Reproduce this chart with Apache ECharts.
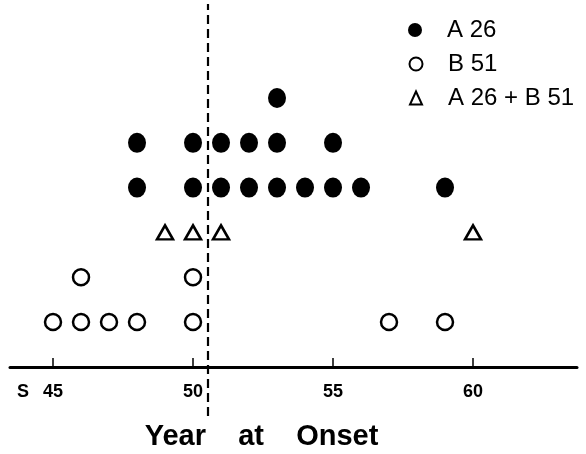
<!DOCTYPE html>
<html>
<head>
<meta charset="utf-8">
<script src="https://cdn.jsdelivr.net/npm/echarts@6/dist/echarts.min.js"></script>
<style>
  html, body { margin: 0; padding: 0; background: #fff; }
  #chart { width: 586px; height: 454px; }
</style>
</head>
<body>
<div id="chart"></div>
<script>
// year at onset for each patient, one entry per mark
const a26Years = [48, 48, 50, 50, 51, 51, 52, 52, 53, 53, 53, 54, 55, 55, 56, 59];
const b51Years = [45, 46, 46, 47, 48, 50, 50, 57, 59];
const bothYears = [49, 50, 51, 60];
// row where each group starts stacking
const a26Base = 4;
const b51Base = 1;
const bothBase = 3;
const xTicks = [45, 50, 55, 60];
// dashed cut line
const cutYear = 50.53;
const seriesNames = ["A 26", "B 51", "A 26 + B 51"];

// stack repeated years upward like a dot plot
function stackDots(years, base) {
	const seen = {};
	return years.map(function (y) {
		const k = seen[y] || 0;
		seen[y] = k + 1;
		return [y, base + k];
	});
}

const font = "Liberation Sans";
let chart = echarts.init(document.getElementById("chart"));

const legendBase = {
	orient: "vertical",
	padding: 0,
	selectedMode: false,
	textStyle: { fontFamily: font, fontSize: 24, color: "#000" },
};

const option = {
	animation: false,
	textStyle: { fontFamily: font },
	// grid runs below the axis so the dashed line can cross it
	grid: { left: 10, right: 9, top: 4, bottom: 38, outerBoundsMode: "none" },
	legend: [
		Object.assign({}, legendBase, {
			data: [{ name: seriesNames[0], icon: "circle" }],
			left: 408, top: 18, itemWidth: 14, itemHeight: 14,
			itemStyle: { color: "#000", opacity: 1 },
			textStyle: Object.assign({}, legendBase.textStyle, { padding: [4, 0, 0, 20] }),
		}),
		Object.assign({}, legendBase, {
			data: [{ name: seriesNames[1], icon: "circle" }],
			left: 408.5, top: 52, itemWidth: 13, itemHeight: 13,
			itemStyle: { color: "#fff", borderColor: "#000", borderWidth: 2, opacity: 1 },
			textStyle: Object.assign({}, legendBase.textStyle, { padding: [4, 0, 0, 20.5] }),
		}),
		Object.assign({}, legendBase, {
			data: [{ name: seriesNames[2], icon: "triangle" }],
			left: 409, top: 86, itemWidth: 12, itemHeight: 13,
			itemStyle: { color: "#fff", borderColor: "#000", borderWidth: 2, opacity: 1 },
			textStyle: Object.assign({}, legendBase.textStyle, { padding: [3, 0, 0, 21] }),
		}),
	],
	xAxis: {
		type: "value",
		min: 43.464,
		max: 63.714,
		offset: -49,
		name: "Year    at    Onset",
		nameLocation: "middle",
		nameGap: 55,
		nameTextStyle: {
			fontFamily: font, fontSize: 29, fontWeight: "bold", color: "#000",
			padding: [0, 64, 0, 0],
		},
		splitLine: { show: false },
		axisLine: { onZero: false, lineStyle: { color: "#000", width: 3 } },
		axisTick: {
			inside: true, length: 9, customValues: xTicks,
			lineStyle: { color: "#000", width: 1.5 },
		},
		axisLabel: {
			customValues: xTicks,
			margin: 16,
			formatter: function (v) {
				return v === 45 ? "{s|S}{n|45}{p|}" : "{n|" + v + "}";
			},
			rich: {
				s: { fontFamily: font, fontSize: 18, fontWeight: "bold", color: "#000", width: 26, align: "left" },
				n: { fontFamily: font, fontSize: 18, fontWeight: "bold", color: "#000" },
				p: { width: 26 },
			},
		},
	},
	yAxis: { type: "value", min: -1.1, max: 8.1, show: false },
	series: [
		{
			name: seriesNames[0],
			type: "scatter",
			symbol: "circle",
			symbolSize: [18, 20],
			itemStyle: { color: "#000", opacity: 1 },
			data: stackDots(a26Years, a26Base),
			markLine: {
				silent: true,
				symbol: "none",
				label: { show: false },
				lineStyle: { color: "#000", width: 2.2, type: [9, 5], opacity: 1 },
				data: [{ xAxis: cutYear }],
			},
		},
		{
			name: seriesNames[1],
			type: "scatter",
			symbol: "circle",
			symbolSize: 16,
			itemStyle: { color: "#fff", borderColor: "#000", borderWidth: 2.5, opacity: 1 },
			data: stackDots(b51Years, b51Base),
		},
		{
			name: seriesNames[2],
			type: "scatter",
			symbol: "triangle",
			symbolSize: [16, 14],
			itemStyle: { color: "#fff", borderColor: "#000", borderWidth: 2.5, opacity: 1 },
			data: stackDots(bothYears, bothBase),
		},
	],
};

chart.setOption(option);
</script>
</body>
</html>
